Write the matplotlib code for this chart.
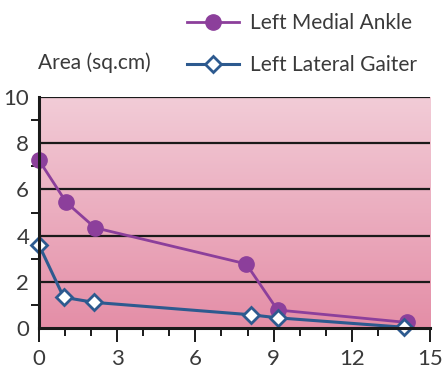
import numpy as np
import matplotlib.pyplot as plt
from matplotlib.colors import LinearSegmentedColormap
from matplotlib.ticker import MultipleLocator

plt.rcParams['font.family'] = ['Lato', 'DejaVu Sans']

# days / area readings
medial_x = [0, 1.05, 2.15, 7.95, 9.15, 14.1]
medial_y = [7.28, 5.44, 4.34, 2.77, 0.77, 0.23]
gaiter_x = [0, 0.95, 2.12, 8.15, 9.15, 14.0]
gaiter_y = [3.6, 1.32, 1.1, 0.56, 0.43, 0.02]

purple = '#8c3f9b'
blue = '#2d5a8f'
txt = '#3a3a3a'

fig = plt.figure(figsize=(4.42, 3.73), dpi=100)
ax = fig.add_axes([0.088, 0.1214, 0.885, 0.6176])

# pink vertical gradient background
cmap = LinearSegmentedColormap.from_list('pinks', ['#e48ea7', '#f2ccd7'])
grad = np.linspace(0, 1, 256).reshape(-1, 1)
ax.imshow(grad, cmap=cmap, aspect='auto', extent=[0, 15, 0, 10],
          origin='lower', zorder=0)

for yv in [2, 4, 6, 8, 10]:
    ax.axhline(yv, color='#1a1a1a', lw=1.6, zorder=1)

ax.plot(medial_x, medial_y, color=purple, lw=2, marker='o', ms=11,
        markerfacecolor=purple, markeredgecolor=purple, zorder=3,
        label='Left Medial Ankle', clip_on=False)
ax.plot(gaiter_x, gaiter_y, color=blue, lw=2.2, marker='D', ms=8,
        markerfacecolor='white', markeredgecolor=blue, markeredgewidth=2,
        zorder=4, label='Left Lateral Gaiter', clip_on=False)

ax.set_xlim(0, 15)
ax.set_ylim(0, 10)
ax.xaxis.set_major_locator(MultipleLocator(3))
ax.xaxis.set_minor_locator(MultipleLocator(1))
ax.yaxis.set_major_locator(MultipleLocator(2))
ax.yaxis.set_minor_locator(MultipleLocator(1))

for s in ['top', 'right']:
    ax.spines[s].set_visible(False)
for s in ['left', 'bottom']:
    ax.spines[s].set_linewidth(2.2)
    ax.spines[s].set_color('#1a1a1a')
    ax.spines[s].set_zorder(5)

ax.tick_params(axis='x', which='major', length=10, width=1.4, color='#1a1a1a',
               labelsize=16, labelcolor=txt, pad=5)
ax.tick_params(axis='x', which='minor', length=6, width=1.4, color='#1a1a1a')
ax.tick_params(axis='y', which='major', length=0, labelsize=16, labelcolor=txt, pad=7)
ax.tick_params(axis='y', which='minor', length=6, width=1.4, color='#1a1a1a')

fig.text(0.086, 0.833, 'Area (sq.cm)', fontsize=15, color=txt, va='center')
fig.legend(loc='upper right', bbox_to_anchor=(0.985, 1.015), frameon=False,
           fontsize=15, labelcolor=txt,
           handlelength=2.5, labelspacing=1.05, handletextpad=0.5)

fig.savefig('out.png', dpi=100)
